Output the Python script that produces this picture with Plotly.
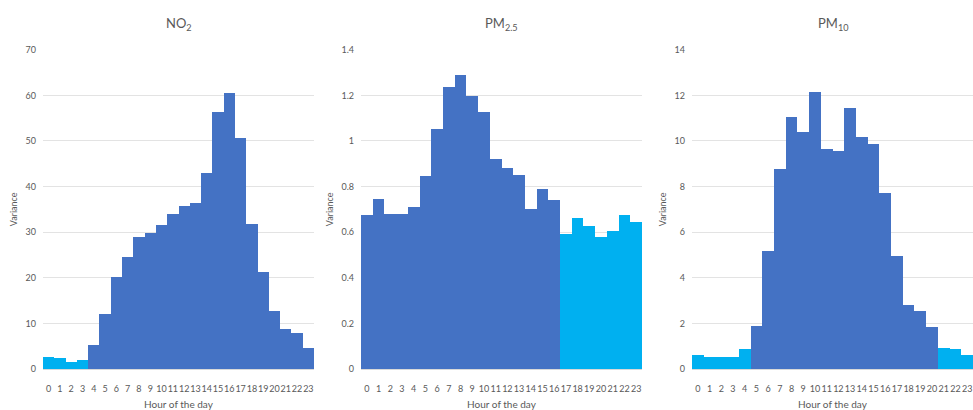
import plotly.graph_objects as go

# Hour-of-day variance for three pollutants
hours = list(range(24))
hour_labels = [str(h) for h in hours]

no2_variance = [2.6, 2.35, 1.6, 2.1, 5.2, 12.0, 20.2, 24.6, 29.0, 29.9, 31.6, 34.0,
                35.9, 36.4, 43.1, 56.3, 60.5, 50.6, 31.9, 21.3, 12.7, 8.8, 8.0, 4.6]
pm25_variance = [0.677, 0.748, 0.682, 0.679, 0.713, 0.846, 1.052, 1.238, 1.29, 1.198,
                 1.126, 0.923, 0.883, 0.85, 0.701, 0.792, 0.744, 0.593, 0.663, 0.628,
                 0.581, 0.606, 0.677, 0.645]
pm10_variance = [0.62, 0.52, 0.52, 0.54, 0.88, 1.9, 5.18, 8.8, 11.06, 10.4, 12.16, 9.67,
                 9.59, 11.46, 10.18, 9.87, 7.71, 4.95, 2.81, 2.56, 1.85, 0.95, 0.88, 0.62]

# Hours shown in the lighter shade for each pollutant
no2_light_hours = [0, 1, 2, 3]
pm25_light_hours = [17, 18, 19, 20, 21, 22, 23]
pm10_light_hours = [0, 1, 2, 3, 4, 21, 22, 23]

titles = ["NO<sub>2</sub>", "PM<sub>2.5</sub>", "PM<sub>10</sub>"]
y_ranges = [(0, 70, 10), (0, 1.4, 0.2), (0, 14, 2)]

DARK = "#4472C4"
LIGHT = "#00B0F0"
TEXT = "#595959"
GRID = "#E3E3E3"
FONT = "Lato, 'Open Sans', sans-serif"

W, H = 973, 410
x_domains = [(43, 314), (361, 642), (692, 973)]
y_top, y_bottom = 45, 373

fig = go.Figure()
series = [(no2_variance, no2_light_hours), (pm25_variance, pm25_light_hours),
          (pm10_variance, pm10_light_hours)]

for i, (values, light) in enumerate(series):
    n = "" if i == 0 else str(i + 1)
    colors = [LIGHT if h in light else DARK for h in hours]
    fig.add_trace(go.Bar(x=hours, y=values, marker=dict(color=colors, line=dict(width=0)),
                         xaxis="x" + n, yaxis="y" + n, showlegend=False))
    x0, x1 = x_domains[i]
    lo, hi, step = y_ranges[i]
    fig.update_layout(**{
        "xaxis" + n: dict(domain=[x0 / W, min(x1 / W, 1.0)], range=[-0.5, 23.5],
                          anchor="y" + n, tickmode="array", tickvals=hours,
                          ticktext=hour_labels, tickangle=0,
                          tickfont=dict(size=9, color=TEXT, family=FONT),
                          showgrid=False, zeroline=False, showline=True,
                          linecolor="#D9D9D9", linewidth=1, ticks="",
                          ticklabelstandoff=11,
                          title=dict(text="Hour of the day", standoff=8,
                                     font=dict(size=10, color=TEXT, family=FONT))),
        "yaxis" + n: dict(domain=[1 - y_bottom / H, 1 - y_top / H], range=[lo, hi],
                          anchor="x" + n, dtick=step, tick0=0,
                          tickfont=dict(size=9, color=TEXT, family=FONT),
                          showgrid=True, gridcolor=GRID, gridwidth=1,
                          zeroline=False, showline=False, ticks="",
                          ticklabelstandoff=6,
                          title=dict(text="Variance", standoff=6,
                                     font=dict(size=9, color=TEXT, family=FONT))),
    })
    fig.add_annotation(text=titles[i], xref="paper", yref="paper",
                       x=(x0 + min(x1, W)) / 2 / W, y=1 - 18 / H,
                       showarrow=False, xanchor="center", yanchor="middle",
                       font=dict(size=13, color=TEXT, family=FONT))

fig.update_layout(width=W, height=H, margin=dict(l=0, r=0, t=0, b=0),
                  paper_bgcolor="white", plot_bgcolor="white", bargap=0)

fig.write_html("out.html")
